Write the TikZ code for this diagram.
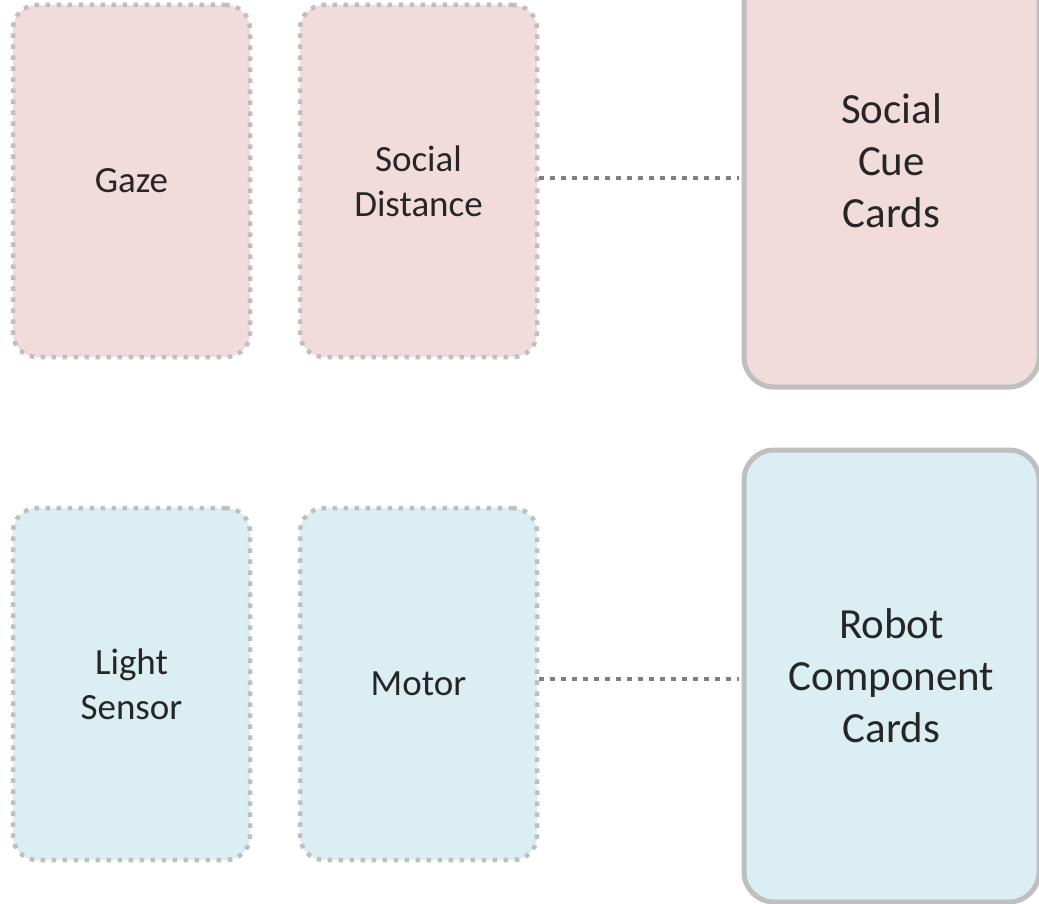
\documentclass[tikz,border=0pt]{standalone}
\usepackage{fontspec}
\setmainfont{Carlito}
\usetikzlibrary{positioning}
\definecolor{cuepink}{HTML}{F2DCDB}
\definecolor{partblue}{HTML}{DAEEF3}
\definecolor{edgegray}{HTML}{BFBFBF}
\definecolor{linkgray}{HTML}{7F7F7F}
\definecolor{inkgray}{HTML}{262626}

\begin{document}
\begin{tikzpicture}[x=1pt, y=-1pt,
                card/.style={
                  rounded corners=24pt, draw=edgegray, line width=4.5pt,
                  dash pattern=on 4.5pt off 6.5pt, outer sep=0pt, inner sep=0pt,
                  minimum width=237pt, minimum height=352pt, align=center,
                  font=\fontsize{37}{45}\selectfont, text=inkgray
                },
                deck/.style={
                  rounded corners=30pt, draw=edgegray, line width=5pt,
                  outer sep=0pt, inner sep=0pt,
                  minimum width=295pt, minimum height=452pt, align=center,
                  font=\fontsize{43}{52}\selectfont, text=inkgray
                },
                link/.style={draw=linkgray, line width=4.5pt, dash pattern=on 4.5pt off 6.5pt}
              ]
              \useasboundingbox (0,0) rectangle (1039,904);
              \clip (0,0) rectangle (1039,904);
              % social cue row
              \node [card, fill=cuepink] (gaze) at (131.5,181) {Gaze};
              \node [card, fill=cuepink, right=50pt of gaze] (dist) {Social\\Distance};
              \node [deck, fill=cuepink, right=207pt of dist, yshift=20pt] (cue) {Social\\Cue\\Cards};
              % robot component row
              \node [card, fill=partblue, below=151pt of gaze] (light) {Light\\Sensor};
              \node [card, fill=partblue, right=50pt of light] (motor) {Motor};
              \node [deck, fill=partblue, right=207pt of motor, yshift=8pt] (robot) {Robot\\Component\\Cards};
              \draw [link, shorten <=2pt, shorten >=5pt] ([yshift=3pt]dist.east) -- ([yshift=3pt]dist.east -| cue.west);
              \draw [link, shorten <=2pt, shorten >=5pt] ([yshift=5pt]motor.east) -- ([yshift=5pt]motor.east -| robot.west);
            \end{tikzpicture}
\end{document}
